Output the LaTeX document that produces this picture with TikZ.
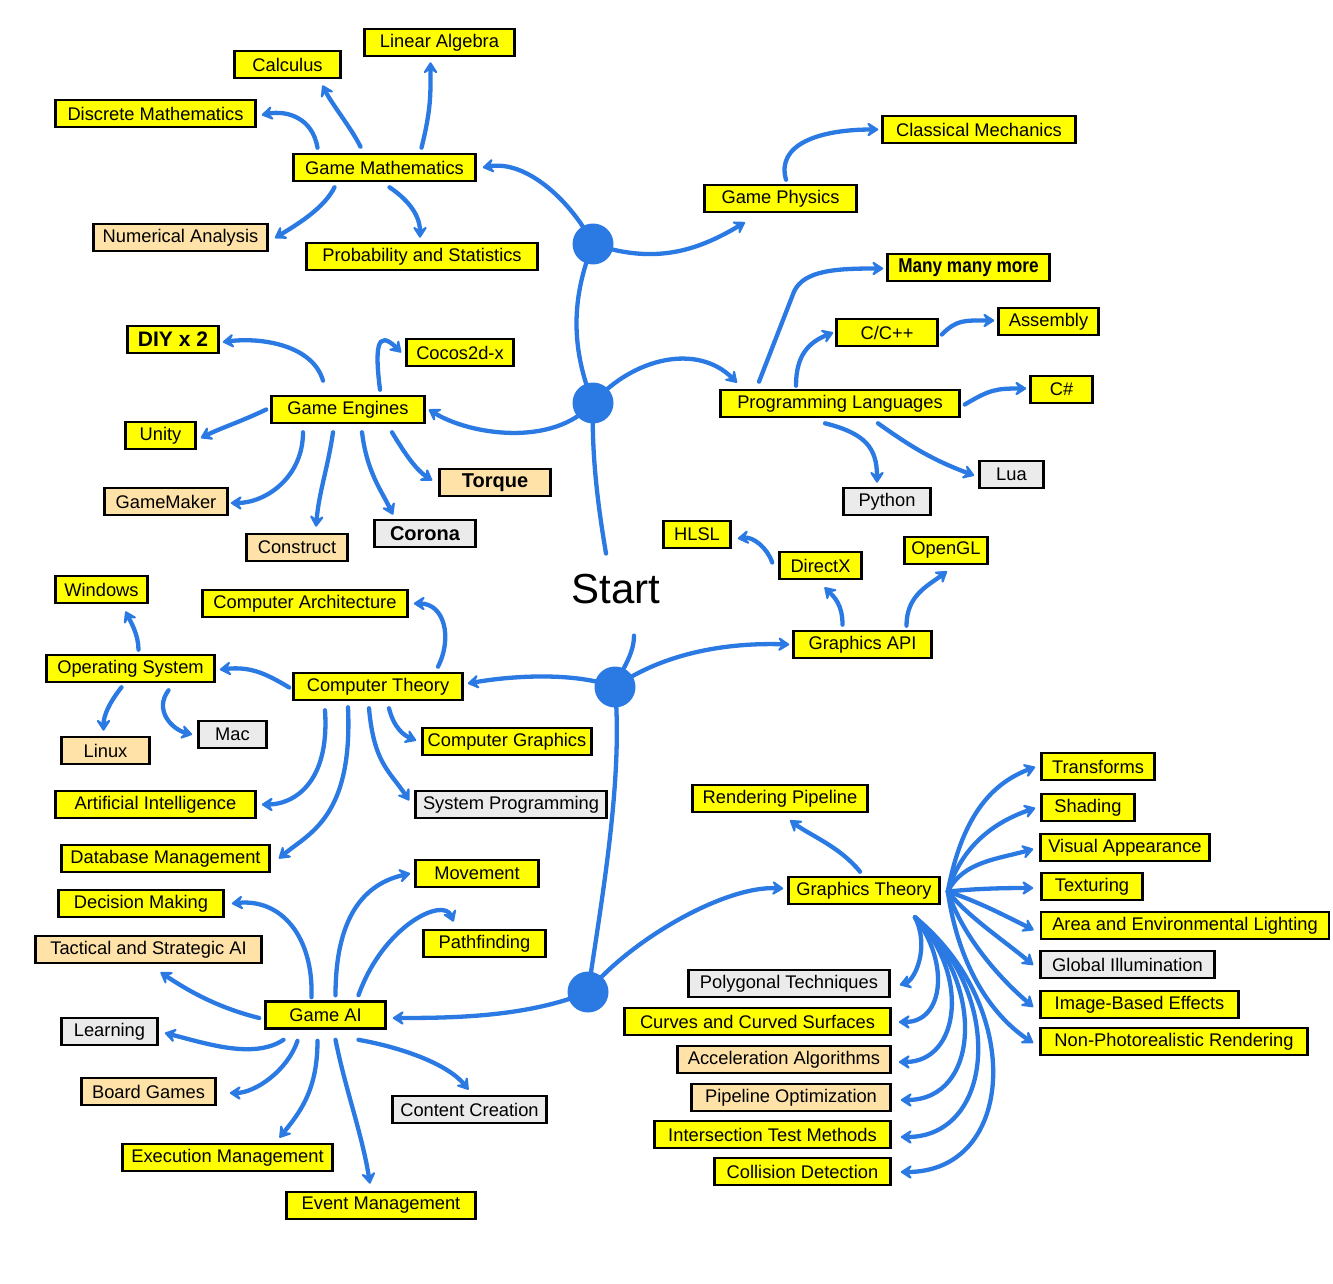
\documentclass[tikz,border=0pt]{standalone}
\usepackage{fontspec}
\setmainfont{Liberation Sans}
\usetikzlibrary{arrows.meta,shadows,backgrounds}
\definecolor{cblue}{RGB}{43,122,228}
\definecolor{cyel}{RGB}{255,255,0}
\definecolor{corg}{RGB}{254,226,167}
\definecolor{cgray}{RGB}{235,235,235}
\newcommand\lab{\fontsize{18.3}{21}\selectfont}
\newcommand\biglab{\fontsize{21}{24}\selectfont\bfseries}
\newcommand\medlab{\fontsize{20}{23}\selectfont\bfseries}
\tikzset{
 box/.style={draw=black, line width=2.6pt, inner sep=0pt, minimum height=27pt, font=\lab,
   drop shadow={shadow xshift=1.3pt, shadow yshift=-1.3pt, fill=black, opacity=1}},
 yb/.style={box, fill=cyel},
 ob/.style={box, fill=corg},
 gb/.style={box, fill=cgray},
 mw/.style={minimum width=#1pt},
 hub/.style={circle, fill=cblue, minimum size=41pt, inner sep=0pt},
 link/.style={draw=cblue, line width=4.3pt, line cap=round},
 arr/.style={link, -{Stealth[length=14pt,width=18pt,inset=6pt,round]}},
}
\begin{document}
\begin{tikzpicture}[x=1pt,y=-1pt]
\useasboundingbox (0,0) rectangle (1333,1284);
% ---- boxes ----
\node[yb,mw=150] (la) at (439.5,42.5) {Linear Algebra};
\node[yb,mw=106] (calc) at (287.5,64.5) {Calculus};
\node[yb,mw=200] (dm) at (155.5,113.5) {Discrete Mathematics};
\node[yb,mw=182] (gm) at (384.5,167.5) {Game Mathematics};
\node[ob,mw=174] (na) at (180.5,237.5) {Numerical Analysis};
\node[yb,mw=231] (ps) at (422,256.5) {Probability and Statistics};
\node[yb,mw=193] (cm) at (979,129.5) {Classical Mechanics};
\node[yb,mw=152] (gp) at (780.5,198.5) {Game Physics};
\node[yb,mw=162,font=\medlab] (mmm) at (968.5,267.5) {\scalebox{0.86}[1]{Many many more}};
\node[yb,mw=101] (cpp) at (887,332.5) {C/C++};
\node[yb,mw=100] (asm) at (1048.5,321.5) {Assembly};
\node[yb,mw=62] (cs) at (1061.5,389.5) {C\#};
\node[yb,mw=239] (pl) at (840,403.5) {Programming Languages};
\node[gb,mw=64] (lua) at (1011.5,474.5) {Lua};
\node[gb,mw=87] (py) at (887,501.5) {Python};
\node[yb,mw=91,font=\biglab] (diy) at (173,339.5) {DIY x 2};
\node[yb,mw=107] (cocos) at (460,352.5) {Cocos2d-x};
\node[yb,mw=153] (ge) at (348,409.5) {Game Engines};
\node[yb,mw=70] (unity) at (160.5,435.5) {Unity};
\node[ob,mw=123] (gmk) at (166,501.5) {GameMaker};
\node[ob,mw=111,font=\medlab] (torque) at (495,482.5) {Torque};
\node[ob,mw=101] (construct) at (297,547.5) {Construct};
\node[gb,mw=101,font=\medlab] (corona) at (425,533.5) {Corona};
\node[yb,mw=67] (hlsl) at (697,534.5) {HLSL};
\node[yb,mw=82] (dx) at (820.5,565.5) {DirectX};
\node[yb,mw=83] (ogl) at (946,550.5) {OpenGL};
\node[yb,mw=138] (gapi) at (862.5,644.5) {Graphics API};
\node[font=\fontsize{42}{46}\selectfont, inner sep=0pt, anchor=base] (start) at (616,603) {Start};
\node[yb,mw=92] (win) at (101.5,589.5) {Windows};
\node[yb,mw=205] (carch) at (305,603.5) {Computer Architecture};
\node[yb,mw=168] (os) at (130.5,668.5) {Operating System};
\node[yb,mw=169] (ct) at (378,686.5) {Computer Theory};
\node[gb,mw=68] (mac) at (232.5,734.5) {Mac};
\node[ob,mw=88] (linux) at (105.5,750.5) {Linux};
\node[yb,mw=169] (cg) at (507,741.5) {Computer Graphics};
\node[yb,mw=200] (ai) at (155.5,804.5) {Artificial Intelligence};
\node[gb,mw=191] (sp) at (511,804.5) {System Programming};
\node[yb,mw=208] (db) at (165.5,858.5) {Database Management};
\node[yb,mw=123] (mov) at (477,873.5) {Movement};
\node[yb,mw=165] (dec) at (141,903.5) {Decision Making};
\node[ob,mw=226] (tac) at (148.5,949.5) {Tactical and Strategic AI};
\node[yb,mw=122] (path) at (484.5,943.5) {Pathfinding};
\node[yb,mw=120] (gai) at (325.5,1015) {Game AI};
\node[gb,mw=96] (learn) at (109.5,1031.5) {Learning};
\node[ob,mw=134] (board) at (148.5,1091.5) {Board Games};
\node[gb,mw=154] (content) at (469.5,1109.5) {Content Creation};
\node[yb,mw=210] (exec) at (227.5,1157.5) {Execution Management};
\node[yb,mw=189] (event) at (381,1205.5) {Event Management};
\node[yb,mw=175] (rp) at (780,798.5) {Rendering Pipeline};
\node[yb,mw=151] (gt) at (864,890.5) {Graphics Theory};
\node[yb,mw=113] (tr) at (1098,766.5) {Transforms};
\node[yb,mw=93] (sh) at (1088,807.5) {Shading};
\node[yb,mw=169] (va) at (1125,847.5) {Visual Appearance};
\node[yb,mw=101] (tex) at (1092,886.5) {Texturing};
\node[yb,mw=288] (ael) at (1185,925.5) {Area and Environmental Lighting};
\node[gb,mw=174] (gi) at (1127.5,964.5) {Global Illumination};
\node[yb,mw=198] (ibe) at (1139.5,1004.5) {Image-Based Effects};
\node[yb,mw=267] (npr) at (1174,1041.5) {Non-Photorealistic Rendering};
\node[gb,mw=201] (poly) at (789,983.5) {Polygonal Techniques};
\node[yb,mw=266] (curves) at (757.5,1021.5) {Curves and Curved Surfaces};
\node[ob,mw=213] (accel) at (784,1059.5) {Acceleration Algorithms};
\node[ob,mw=199] (pipe) at (791,1097.5) {Pipeline Optimization};
\node[yb,mw=236] (inter) at (772.5,1134.5) {Intersection Test Methods};
\node[yb,mw=176] (coll) at (802.5,1171.5) {Collision Detection};
% ---- hubs ----
\node[hub] (h1) at (593,244) {};
\node[hub] (h2) at (593,403) {};
\node[hub] (h3) at (615,687) {};
\node[hub] (h4) at (588,992) {};
% ---- connectors ----
\begin{scope}[on background layer]
\fill[white] (0,0) rectangle (1333,1284);
% trunk
\draw[link] (h1.center) .. controls +(-22,55) and +(-22,-55) .. (h2.center);
\draw[link] (h2.center) .. controls +(-2,60) and +(-5,-30) .. ([shift={(-10,-20)}]start.north);
\draw[link] ([shift={(18,32)}]start.south) .. controls +(0,20) and +(5,-15) .. (h3.center);
\draw[link] (h3.center) .. controls +(8,90) and +(15,-100) .. (h4.center);
% hub 1
\draw[arr] (h1.center) .. controls +(-20,-40) and +(45,-8) .. ([shift={(6,0)}]gm.east);
\draw[arr] (h1.center) .. controls +(60,20) and +(-50,30) .. ([shift={(-35.5,9)}]gp.south);
\draw[arr] ([shift={(5.5,-4)}]gp.north) .. controls +(-10,-35) and +(-60,0) .. ([shift={(-3,0)}]cm.west);
% game mathematics
\draw[arr] ([shift={(-67,-5)}]gm.north) .. controls +(-5,-30) and +(25,-5) .. ([shift={(5,1.5)}]dm.east);
\draw[arr] ([shift={(-24,-6)}]gm.north) .. controls +(-10,-20) and +(10,20) .. ([shift={(35,6)}]calc.south);
\draw[arr] ([shift={(37,-5)}]gm.north) .. controls +(10,-40) and +(0,30) .. ([shift={(-9,5)}]la.south);
\draw[arr] ([shift={(-50,5)}]gm.south) .. controls +(-10,20) and +(25,-15) .. ([shift={(6,0.5)}]na.east);
\draw[arr] ([shift={(5,5)}]gm.south) .. controls +(15,10) and +(0,-25) .. ([shift={(-2,-4)}]ps.north);
% hub 2
\draw[arr] (h2.center) .. controls +(40,-45) and +(-40,-40) .. ([shift={(-103,-6)}]pl.north);
\draw[arr] ([shift={(-81,-7)}]pl.north) -- ++(35,-90) .. controls +(10,-22) and +(-45,0) .. ([shift={(-3,1)}]mmm.west);
\draw[arr] ([shift={(-44,-3)}]pl.north) .. controls +(0,-30) and +(-25,10) .. ([shift={(-2,0)}]cpp.west);
\draw[arr] ([shift={(3,2)}]cpp.east) .. controls +(15,-15) and +(-30,0) .. ([shift={(-3,-1)}]asm.west);
\draw[arr] ([shift={(4,1)}]pl.east) .. controls +(25,-15) and +(-30,0) .. ([shift={(-3,-1)}]cs.west);
\draw[arr] ([shift={(-15,5)}]pl.south) .. controls +(40,10) and +(0,-35) .. ([shift={(-10,-4)}]py.north);
\draw[arr] ([shift={(38,5)}]pl.south) .. controls +(35,25) and +(-40,-15) .. ([shift={(-4,1)}]lua.west);
\draw[arr] (h2.center) .. controls +(-40,45) and +(40,25) .. ([shift={(3,0)}]ge.east);
% game engines
\draw[arr] ([shift={(-25,-14)}]ge.north) .. controls +(-10,-35) and +(40,-5) .. ([shift={(3,2.5)}]diy.east);
\draw[arr] ([shift={(32,-5)}]ge.north) .. controls +(-5,-40) and +(-25,-25) .. ([shift={(-4,0)}]cocos.west);
\draw[arr] ([shift={(-4,0)}]ge.west) .. controls +(-25,12) and +(20,-10) .. ([shift={(4,2.5)}]unity.east);
\draw[arr] ([shift={(-45,8)}]ge.south) .. controls +(0,45) and +(35,0) .. ([shift={(2,1.5)}]gmk.east);
\draw[arr] ([shift={(-15,8)}]ge.south) .. controls +(-5,35) and +(3,-35) .. ([shift={(19,-6)}]construct.north);
\draw[arr] ([shift={(14,8)}]ge.south) .. controls +(5,40) and +(-12,-25) .. ([shift={(-32,-4)}]corona.north);
\draw[arr] ([shift={(44,8)}]ge.south) .. controls +(15,25) and +(-15,-10) .. ([shift={(-6,-2)}]torque.west);
% hub 3
\draw[arr] (h3.center) .. controls +(50,-35) and +(-60,-2) .. ([shift={(-3,0)}]gapi.west);
\draw[arr] ([shift={(-20,-5)}]gapi.north) .. controls +(0,-20) and +(10,10) .. ([shift={(4,7)}]dx.south);
\draw[arr] ([shift={(-6,-3)}]dx.west) .. controls +(-5,-15) and +(15,-2) .. ([shift={(6,4)}]hlsl.east);
\draw[arr] ([shift={(44,-4)}]gapi.north) .. controls +(0,-30) and +(-20,15) .. ([shift={(1,6)}]ogl.south);
\draw[arr] (h3.center) .. controls +(-40,-15) and +(45,-8) .. ([shift={(4,-3)}]ct.east);
% computer theory
\draw[arr] ([shift={(60,-5)}]ct.north) .. controls +(15,-30) and +(30,0) .. ([shift={(5,0)}]carch.east);
\draw[arr] ([shift={(-3,1)}]ct.west) .. controls +(-25,-15) and +(30,-3) .. ([shift={(4,1)}]os.east);
\draw[arr] ([shift={(8,-4)}]os.north) .. controls +(0,-15) and +(5,10) .. ([shift={(24,7)}]win.south);
\draw[arr] ([shift={(-9,4)}]os.south) .. controls +(-12,15) and +(0,-15) .. ([shift={(-2,-5)}]linux.north);
\draw[arr] ([shift={(38,7)}]os.south) .. controls +(-15,20) and +(-20,-5) .. ([shift={(-5,0)}]mac.west);
\draw[arr] ([shift={(11,7)}]ct.south) .. controls +(5,20) and +(-12,-5) .. ([shift={(-5,-1)}]cg.west);
\draw[arr] ([shift={(-9,7)}]ct.south) .. controls +(5,55) and +(-20,-30) .. ([shift={(-5,-4)}]sp.west);
\draw[arr] ([shift={(-53,9)}]ct.south) .. controls +(5,75) and +(30,0) .. ([shift={(5,0)}]ai.east);
\draw[arr] ([shift={(-30,6)}]ct.south) .. controls +(5,110) and +(30,-25) .. ([shift={(8,0)}]db.east);
% hub 4
\draw[arr] (h4.center) .. controls +(-60,25) and +(60,0) .. ([shift={(6,3)}]gai.east);
\draw[arr] (h4.center) .. controls +(40,-50) and +(-60,-3) .. ([shift={(-4,-2)}]gt.west);
% game AI
\draw[arr] ([shift={(-14,-3)}]gai.north) .. controls +(2,-60) and +(50,-5) .. ([shift={(7,0)}]dec.east);
\draw[arr] ([shift={(10,-5)}]gai.north) .. controls +(0,-80) and +(-45,10) .. ([shift={(-4,0)}]mov.west);
\draw[arr] ([shift={(33,-5)}]gai.north) .. controls +(25,-70) and +(-10,-25) .. ([shift={(-31,-7)}]path.north);
\draw[arr] ([shift={(-5,3)}]gai.west) .. controls +(-40,-10) and +(30,20) .. ([shift={(12,8)}]tac.south);
\draw[arr] ([shift={(-42,10)}]gai.south) .. controls +(-30,20) and +(40,10) .. ([shift={(6,1.5)}]learn.east);
\draw[arr] ([shift={(-28,11)}]gai.south) .. controls +(-10,30) and +(25,0) .. ([shift={(13,1.5)}]board.east);
\draw[arr] ([shift={(-8,11)}]gai.south) .. controls +(0,50) and +(20,-25) .. ([shift={(52,-5)}]exec.north);
\draw[arr] ([shift={(10,10)}]gai.south) .. controls +(10,50) and +(-8,-50) .. ([shift={(-11,-7)}]event.north);
\draw[arr] ([shift={(33,10)}]gai.south) .. controls +(45,8) and +(-20,-25) .. ([shift={(-1,-5)}]content.north);
% graphics theory
\draw[arr] ([shift={(-4,-4)}]gt.north) .. controls +(-20,-25) and +(20,15) .. ([shift={(10,7)}]rp.south);
\draw[arr] ([shift={(7,1)}]gt.east) .. controls +(15,-80) and +(-40,15) .. ([shift={(-5,0.5)}]tr.west);
\draw[arr] ([shift={(7,1)}]gt.east) .. controls +(15,-50) and +(-35,12) .. ([shift={(-5,0.5)}]sh.west);
\draw[arr] ([shift={(7,1)}]gt.east) .. controls +(15,-30) and +(-35,10) .. ([shift={(-6,1.5)}]va.west);
\draw[arr] ([shift={(7,1)}]gt.east) .. controls +(30,-3) and +(-30,0) .. ([shift={(-7,1.5)}]tex.west);
\draw[arr] ([shift={(7,1)}]gt.east) .. controls +(30,10) and +(-30,-15) .. ([shift={(-6,4.5)}]ael.west);
\draw[arr] ([shift={(7,1)}]gt.east) .. controls +(20,25) and +(-30,-25) .. ([shift={(-6,0.5)}]gi.west);
\draw[arr] ([shift={(7,1)}]gt.east) .. controls +(15,45) and +(-35,-30) .. ([shift={(-6,2.5)}]ibe.west);
\draw[arr] ([shift={(7,1)}]gt.east) .. controls +(10,70) and +(-45,-30) .. ([shift={(-6,1.5)}]npr.west);
\draw[arr] ([shift={(51,12)}]gt.south) .. controls +(15,30) and +(15,-5) .. ([shift={(9,1.5)}]poly.east);
\draw[arr] ([shift={(51,12)}]gt.south) .. controls +(35,45) and +(45,0) .. ([shift={(7,0.5)}]curves.east);
\draw[arr] ([shift={(51,12)}]gt.south) .. controls +(55,55) and +(62,0) .. ([shift={(7,2.5)}]accel.east);
\draw[arr] ([shift={(51,12)}]gt.south) .. controls +(70,65) and +(80,0) .. ([shift={(9,2.5)}]pipe.east);
\draw[arr] ([shift={(51,12)}]gt.south) .. controls +(90,75) and +(95,0) .. ([shift={(9,2.5)}]inter.east);
\draw[arr] ([shift={(51,12)}]gt.south) .. controls +(110,90) and +(115,0) .. ([shift={(9,0.5)}]coll.east);
\end{scope}
\end{tikzpicture}
\end{document}
